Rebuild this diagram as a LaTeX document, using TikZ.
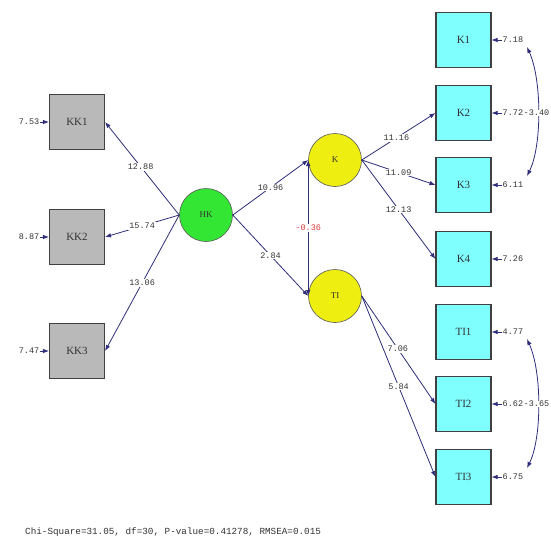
\documentclass[tikz,border=0pt]{standalone}
\usepackage{fontspec}
\setmainfont{Liberation Serif}
\newfontfamily\lblfont{Liberation Mono}
\usetikzlibrary{arrows.meta}
\definecolor{navy}{HTML}{2E2E7A}
\definecolor{boxgray}{HTML}{B9B9B9}
\definecolor{boxcyan}{HTML}{80FFFF}
\definecolor{latgreen}{HTML}{33E633}
\definecolor{latyellow}{HTML}{EEEE10}
\definecolor{covred}{HTML}{E03A3A}
\tikzset{
  obsbox/.style={draw=black!75, line width=1.1pt, minimum width=55pt, minimum height=55pt, inner sep=0pt,
    font=\fontsize{11}{11}\selectfont, text=black!80},
  obsgray/.style={obsbox, fill=boxgray},
  obscyan/.style={obsbox, fill=boxcyan},
  latent/.style={circle, draw=black!65, line width=0.6pt, minimum size=53pt, inner sep=0pt,
    font=\fontsize{9}{9}\selectfont, text=black!80},
  tip/.style={-{Latex[length=6pt,width=4.5pt]}},
  lnk/.style={draw=navy, line width=0.8pt, tip},
  covlnk/.style={draw=navy, line width=0.8pt, {Latex[length=6pt,width=4.5pt]}-{Latex[length=6pt,width=4.5pt]}},
  val/.style={fill=white, inner sep=1pt, font=\lblfont\fontsize{8.5}{9}\selectfont, text=black!80},
  errv/.style={inner sep=0.5pt, font=\lblfont\fontsize{8.5}{9}\selectfont, text=black!80}
}
\begin{document}
\begin{tikzpicture}[x=1pt,y=-1pt]
\useasboundingbox[fill=white] (0,0) rectangle (551,546);

% observed left
\node[obsgray] (KK1) at (77,122) {KK1};
\node[obsgray] (KK2) at (77,237) {KK2};
\node[obsgray] (KK3) at (77,351) {KK3};

% latent
\node[latent, fill=latgreen] (HK) at (206,215) {HK};
\node[latent, fill=latyellow] (K) at (335,160) {K};
\node[latent, fill=latyellow] (TI) at (335,296) {TI};

% observed right
\node[obscyan] (K1) at (463.5,40) {K1};
\node[obscyan] (K2) at (463.5,113) {K2};
\node[obscyan] (K3) at (463.5,185) {K3};
\node[obscyan] (K4) at (463.5,259) {K4};
\node[obscyan] (TI1) at (463.5,332) {TI1};
\node[obscyan] (TI2) at (463.5,404) {TI2};
\node[obscyan] (TI3) at (463.5,477) {TI3};

% loadings
\draw[lnk] (HK.west) -- (KK1.east) node[val, pos=0.52] {12.88};
\draw[lnk] (HK.west) -- (KK2.east) node[val, pos=0.5] {15.74};
\draw[lnk] (HK.west) -- (KK3.east) node[val, pos=0.5] {13.06};
\draw[lnk] (HK.east) -- (K.west) node[val, pos=0.5] {10.96};
\draw[lnk] (HK.east) -- (TI.west) node[val, pos=0.5] {2.84};
\draw[covlnk] (K.west) -- (TI.west) node[val, pos=0.5, text=covred] {-0.36};
\draw[lnk] (K.east) -- (K2.west) node[val, pos=0.47] {11.16};
\draw[lnk] (K.east) -- (K3.west) node[val, pos=0.5] {11.09};
\draw[lnk] (K.east) -- (K4.west) node[val, pos=0.5] {12.13};
\draw[lnk] (TI.east) -- (TI2.west) node[val, pos=0.49] {7.06};
\draw[lnk] (TI.east) -- (TI3.west) node[val, pos=0.5] {5.84};

% error variances left
\node[errv, anchor=east] (eKK1) at (40,122) {7.53};
\node[errv, anchor=east] (eKK2) at (40,237) {8.87};
\node[errv, anchor=east] (eKK3) at (40,351) {7.47};
\draw[lnk] (eKK1.east) -- (KK1.west);
\draw[lnk] (eKK2.east) -- (KK2.west);
\draw[lnk] (eKK3.east) -- (KK3.west);

% error variances right
\node[errv, anchor=west] (eK1) at (502,40) {7.18};
\node[errv, anchor=west] (eK2) at (502,113) {7.72};
\node[errv, anchor=west] (eK3) at (502,185) {6.11};
\node[errv, anchor=west] (eK4) at (502,259) {7.26};
\node[errv, anchor=west] (eTI1) at (502,332) {4.77};
\node[errv, anchor=west] (eTI2) at (502,404) {6.62};
\node[errv, anchor=west] (eTI3) at (502,477) {6.75};
\foreach \n in {K1,K2,K3,K4,TI1,TI2,TI3} {
  \draw[lnk] (e\n.west) -- (\n.east);
}

% error covariances
\coordinate (cK1) at (527,47);
\coordinate (cK3) at (527,176);
\coordinate (cT1) at (527,339);
\coordinate (cT3) at (527,468);
\draw[covlnk] (cK1) .. controls (542,80) and (542,146) .. (cK3);
\draw[covlnk] (cT1) .. controls (542,372) and (542,438) .. (cT3);
\node[val, anchor=west, inner sep=0.5pt] (cvK) at (523,113) {-3.40};
\node[val, anchor=west, inner sep=0.5pt] (cvT) at (523,404) {-3.65};

% fit statistics
\node[anchor=west, inner sep=0pt, font=\lblfont\fontsize{9.3}{10}\selectfont, text=black!80] (fit) at (25,532)
  {Chi-Square=31.05, df=30, P-value=0.41278, RMSEA=0.015};
\end{tikzpicture}
\end{document}
